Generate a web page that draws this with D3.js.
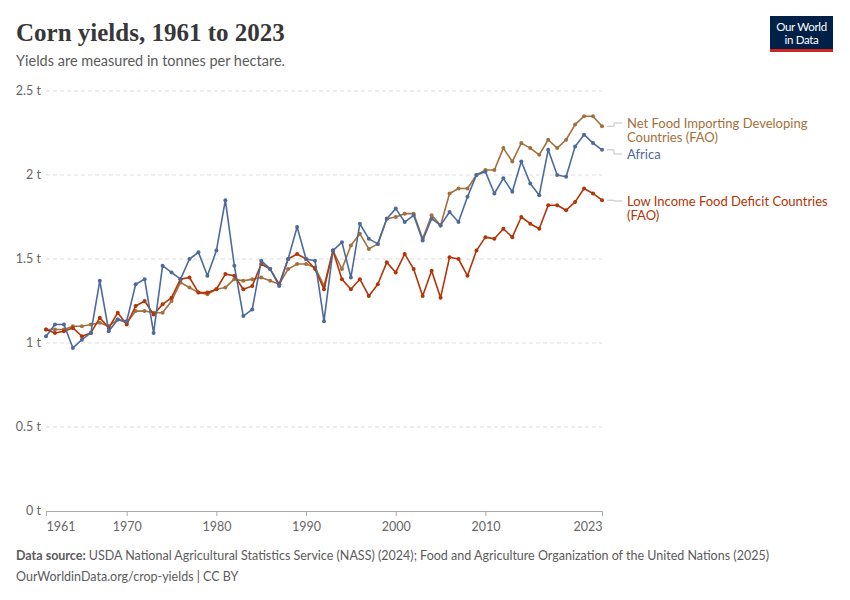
<!DOCTYPE html>
<html>
<head>
<meta charset="utf-8">
<script src="https://cdn.jsdelivr.net/npm/d3@7"></script>
<style>
  body { margin: 0; background: #fff; }
  svg { display: block; font-family: Lato, "Noto Sans", sans-serif; }
</style>
</head>
<body>
<svg id="chart" width="850" height="600"></svg>
<script>
const WIDTH = 850;
const HEIGHT = 600;

const years = [
  1961, 1962, 1963, 1964, 1965, 1966, 1967, 1968, 1969, 1970,
  1971, 1972, 1973, 1974, 1975, 1976, 1977, 1978, 1979, 1980,
  1981, 1982, 1983, 1984, 1985, 1986, 1987, 1988, 1989, 1990,
  1991, 1992, 1993, 1994, 1995, 1996, 1997, 1998, 1999, 2000,
  2001, 2002, 2003, 2004, 2005, 2006, 2007, 2008, 2009, 2010,
  2011, 2012, 2013, 2014, 2015, 2016, 2017, 2018, 2019, 2020,
  2021, 2022, 2023
];

const africa = [
  1.04, 1.11, 1.11, 0.97, 1.02, 1.06, 1.37, 1.07, 1.14, 1.13,
  1.35, 1.38, 1.06, 1.46, 1.42, 1.38, 1.50, 1.54, 1.40, 1.55,
  1.85, 1.46, 1.16, 1.20, 1.49, 1.44, 1.34, 1.50, 1.69, 1.50,
  1.49, 1.13, 1.55, 1.60, 1.39, 1.71, 1.62, 1.59, 1.74, 1.80,
  1.72, 1.76, 1.61, 1.74, 1.70, 1.78, 1.72, 1.87, 2.00, 2.02,
  1.89, 1.98, 1.90, 2.08, 1.95, 1.88, 2.15, 2.00, 1.99, 2.17,
  2.24, 2.19, 2.15
];

const netFoodImporting = [
  1.08, 1.08, 1.08, 1.10, 1.10, 1.11, 1.12, 1.10, 1.14, 1.12,
  1.19, 1.19, 1.18, 1.18, 1.25, 1.36, 1.33, 1.30, 1.29, 1.32,
  1.33, 1.38, 1.37, 1.38, 1.39, 1.37, 1.35, 1.44, 1.47, 1.47,
  1.45, 1.34, 1.55, 1.44, 1.58, 1.65, 1.56, 1.59, 1.74, 1.75,
  1.77, 1.77, 1.62, 1.76, 1.70, 1.89, 1.92, 1.92, 2.00, 2.03,
  2.03, 2.16, 2.08, 2.19, 2.16, 2.12, 2.21, 2.16, 2.21, 2.30,
  2.35, 2.35, 2.29
];

const lowIncomeFoodDeficit = [
  1.08, 1.06, 1.07, 1.09, 1.04, 1.06, 1.15, 1.09, 1.18, 1.11,
  1.22, 1.25, 1.17, 1.23, 1.27, 1.38, 1.39, 1.30, 1.30, 1.32,
  1.41, 1.40, 1.32, 1.34, 1.47, 1.44, 1.35, 1.50, 1.53, 1.50,
  1.44, 1.32, 1.55, 1.38, 1.32, 1.38, 1.28, 1.35, 1.48, 1.42,
  1.53, 1.44, 1.28, 1.43, 1.27, 1.51, 1.50, 1.40, 1.55, 1.63,
  1.62, 1.68, 1.63, 1.75, 1.71, 1.68, 1.82, 1.82, 1.79, 1.84,
  1.92, 1.89, 1.85
];

const yTicks = [0, 0.5, 1, 1.5, 2, 2.5];
const xTicks = [1961, 1970, 1980, 1990, 2000, 2010, 2023];

// draw order: brown, red, blue on top
const series = [
  { lines: ['Net Food Importing Developing', 'Countries (FAO)'], values: netFoodImporting, color: '#a2703c', labelY: 123 },
  { lines: ['Low Income Food Deficit Countries', '(FAO)'], values: lowIncomeFoodDeficit, color: '#b13507', labelY: 201 },
  { lines: ['Africa'], values: africa, color: '#4c6a9c', labelY: 154 }
];

const svg = d3.select('#chart');
const margin = { top: 91, right: 248, bottom: 89, left: 46 };

const x = d3.scaleLinear().domain([1961, 2023]).range([margin.left, WIDTH - margin.right]);
const y = d3.scaleLinear().domain([0, 2.5]).range([HEIGHT - margin.bottom, margin.top]);

// Title + subtitle
svg.append('text')
  .attr('x', 16).attr('y', 41)
  .attr('font-family', '"Liberation Serif", "DejaVu Serif", serif')
  .attr('font-size', 25)
  .attr('font-weight', 'bold')
  .attr('fill', '#373737')
  .text('Corn yields, 1961 to 2023');

svg.append('text')
  .attr('x', 16).attr('y', 66)
  .attr('font-size', 14.5)
  .attr('fill', '#5b5b5b')
  .text('Yields are measured in tonnes per hectare.');

// Logo
const logo = svg.append('g').attr('transform', 'translate(770,16)');
logo.append('rect').attr('width', 63).attr('height', 36).attr('fill', '#002147');
logo.append('rect').attr('y', 33).attr('width', 63).attr('height', 3).attr('fill', '#ce261e');
logo.append('text').attr('x', 31.5).attr('y', 15).attr('text-anchor', 'middle')
  .attr('fill', '#fff').attr('font-size', 11.5).attr('letter-spacing', -0.3).text('Our World');
logo.append('text').attr('x', 31.5).attr('y', 28).attr('text-anchor', 'middle')
  .attr('fill', '#fff').attr('font-size', 11.5).attr('letter-spacing', -0.3).text('in Data');

// Grid lines + y labels
const grid = svg.append('g');
grid.selectAll('line')
  .data(yTicks.filter(d => d > 0))
  .enter()
  .append('line')
  .attr('x1', x(1961)).attr('x2', x(2023))
  .attr('y1', d => y(d)).attr('y2', d => y(d))
  .attr('stroke', '#dddddd')
  .attr('stroke-dasharray', '4,3');

grid.selectAll('text')
  .data(yTicks)
  .enter()
  .append('text')
  .attr('x', 41)
  .attr('y', d => y(d))
  .attr('dy', '0.35em')
  .attr('text-anchor', 'end')
  .attr('font-size', 12.5)
  .attr('fill', '#666')
  .text(d => d + ' t');

// X axis
const xAxis = svg.append('g')
  .attr('transform', `translate(0,${y(0)})`)
  .call(d3.axisBottom(x).tickValues(xTicks).tickFormat(d3.format('d')).tickSize(5).tickSizeOuter(0));
xAxis.select('.domain').attr('stroke', '#aaa');
xAxis.selectAll('.tick line').attr('stroke', '#aaa');
xAxis.selectAll('.tick text')
  .attr('font-family', 'Lato, "Noto Sans", sans-serif')
  .attr('font-size', 12.5)
  .attr('fill', '#666')
  .attr('dy', '0.95em')
  .attr('text-anchor', d => d === 1961 ? 'start' : d === 2023 ? 'end' : 'middle');

// Lines and points
const line = d3.line()
  .x((d, i) => x(years[i]))
  .y(d => y(d));

series.forEach(s => {
  svg.append('path')
    .datum(s.values)
    .attr('fill', 'none')
    .attr('stroke', s.color)
    .attr('stroke-width', 1.6)
    .attr('stroke-linejoin', 'round')
    .attr('d', line);

  svg.append('g')
    .selectAll('circle')
    .data(s.values)
    .enter()
    .append('circle')
    .attr('cx', (d, i) => x(years[i]))
    .attr('cy', d => y(d))
    .attr('r', 2)
    .attr('fill', s.color);
});

// Line labels with connectors
series.forEach(s => {
  const endY = y(s.values[s.values.length - 1]);
  svg.append('path')
    .attr('d', `M${x(2023) + 5},${endY} H${x(2023) + 12} V${s.labelY} H${x(2023) + 20}`)
    .attr('fill', 'none')
    .attr('stroke', '#c0c0c0')
    .attr('stroke-width', 1);

  s.lines.forEach((t, i) => {
    svg.append('text')
      .attr('x', 627)
      .attr('y', s.labelY + i * 14.5)
      .attr('dy', '0.35em')
      .attr('font-size', 13)
      .attr('fill', s.color)
      .text(t);
  });
});

// Footer
const footer = svg.append('text')
  .attr('x', 16).attr('y', 560)
  .attr('font-size', 12.5)
  .attr('fill', '#5b5b5b');
footer.append('tspan').attr('font-weight', 'bold').text('Data source: ');
footer.append('tspan').text('USDA National Agricultural Statistics Service (NASS) (2024); Food and Agriculture Organization of the United Nations (2025)');

svg.append('text')
  .attr('x', 16).attr('y', 581)
  .attr('font-size', 12.5)
  .attr('fill', '#5b5b5b')
  .text('OurWorldinData.org/crop-yields | CC BY');
</script>
</body>
</html>
